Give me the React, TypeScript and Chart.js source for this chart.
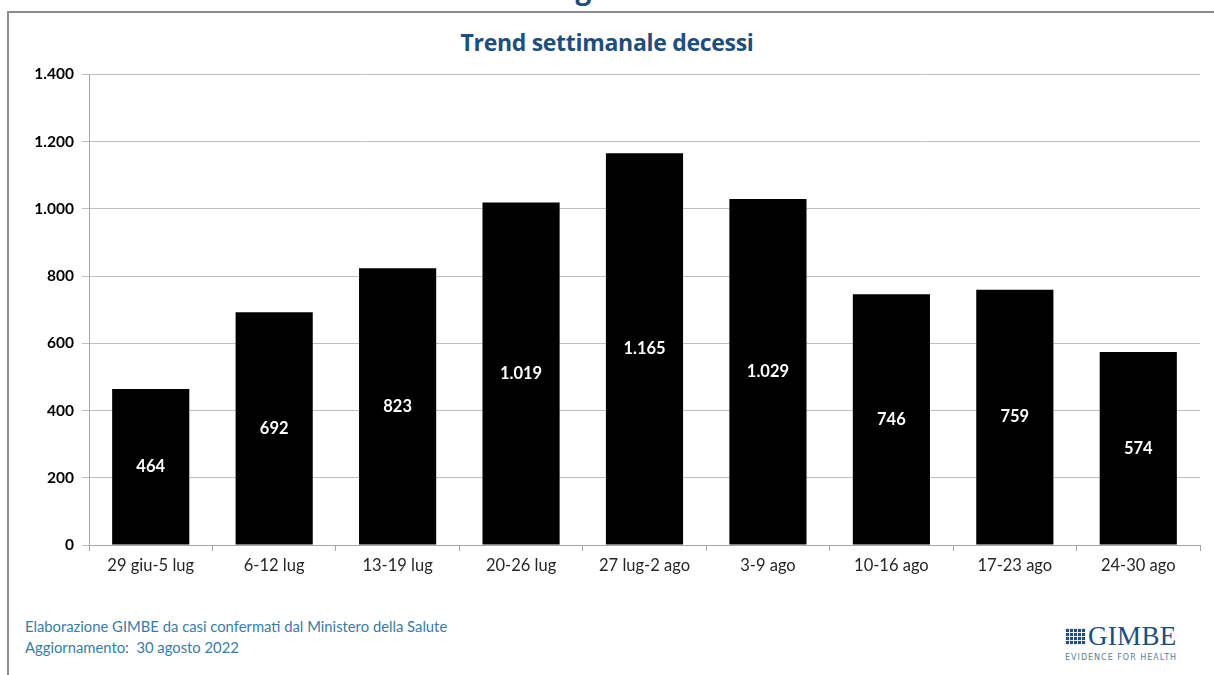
import React, { useEffect, useRef } from "react";
import { Chart, registerables } from "chart.js";

Chart.register(...registerables);

const categories = [
  "29 giu-5 lug",
  "6-12 lug",
  "13-19 lug",
  "20-26 lug",
  "27 lug-2 ago",
  "3-9 ago",
  "10-16 ago",
  "17-23 ago",
  "24-30 ago",
];
const deaths = [464, 692, 823, 1019, 1165, 1029, 746, 759, 574];
const yMax = 1400;
const yStep = 200;

const FONT = "Lato, 'Noto Sans', sans-serif";

function fmt(v: number): string {
  const s = Math.round(v).toString();
  return s.replace(/\B(?=(\d{3})+(?!\d))/g, ".");
}

const barLabels = {
  id: "barLabels",
  afterDatasetsDraw(chart: any) {
    const ctx = chart.ctx;
    const meta = chart.getDatasetMeta(0);
    ctx.save();
    ctx.fillStyle = "#ffffff";
    ctx.font = `bold 16.5px ${FONT}`;
    ctx.textAlign = "center";
    ctx.textBaseline = "middle";
    meta.data.forEach((bar: any, i: number) => {
      const v = chart.data.datasets[0].data[i];
      const mid = (bar.y + bar.base) / 2;
      ctx.fillText(fmt(v), bar.x, mid);
    });
    ctx.restore();
  },
};

export default function App() {
  const ref = useRef<HTMLCanvasElement>(null);
  useEffect(() => {
    if (!ref.current) return;
    const chart = new Chart(ref.current, {
      type: "bar",
      data: {
        labels: categories,
        datasets: [
          {
            data: deaths,
            backgroundColor: "#000000",
            borderWidth: 0,
            barPercentage: 0.625,
            categoryPercentage: 1,
          },
        ],
      },
      options: {
        animation: false,
        responsive: false,
        maintainAspectRatio: false,
        layout: { padding: { top: 11, right: 10, left: 0, bottom: 0 } },
        plugins: {
          legend: { display: false },
          tooltip: { enabled: false },
          title: { display: false },
        },
        scales: {
          x: {
            grid: {
              offset: true,
              drawOnChartArea: false,
              drawTicks: true,
              tickLength: 6,
              color: "#a6a6a6",
            },
            border: { color: "#a6a6a6", width: 1 },
            ticks: {
              color: "#262626",
              font: { family: FONT, size: 16.5 },
              padding: 5,
              maxRotation: 0,
              autoSkip: false,
            },
            afterFit(scale: any) {
              scale.height = 45;
            },
          },
          y: {
            min: 0,
            max: yMax,
            ticks: {
              stepSize: yStep,
              color: "#000000",
              font: { family: FONT, size: 15.5, weight: "bold" },
              padding: 8,
              callback: (v: any) => fmt(Number(v)),
            },
            grid: {
              color: "#bfbfbf",
              drawTicks: true,
              tickLength: 7,
            },
            border: { color: "#a6a6a6", width: 1 },
            afterFit(scale: any) {
              scale.width = 69;
            },
          },
        },
      },
      plugins: [barLabels],
    });
    return () => chart.destroy();
  }, []);

  return (
    <div
      style={{
        position: "fixed",
        left: 0,
        top: 0,
        width: 1214,
        height: 675,
        background: "#ffffff",
        overflow: "hidden",
        fontFamily: FONT,
      }}
    >
      <div
        style={{
          position: "absolute",
          left: 0,
          width: 1214,
          top: -31,
          textAlign: "center",
          color: "#1f4e79",
          fontWeight: "bold",
          fontSize: 28,
          fontFamily: "'Open Sans', sans-serif",
        }}
      >
        Figura 4
      </div>
      <div
        style={{
          position: "absolute",
          left: 7,
          top: 11,
          width: 1205,
          height: 680,
          borderTop: "2px solid #8c8c8c",
          borderLeft: "2px solid #8c8c8c",
          borderRight: "1px solid #eeeeee",
          background: "#ffffff",
        }}
      />
      <div
        style={{
          position: "absolute",
          left: 0,
          width: 1214,
          top: 26,
          textAlign: "center",
          color: "#1f4e79",
          fontWeight: "bold",
          fontSize: 23,
          fontFamily: "'Open Sans', sans-serif",
          letterSpacing: -0.3,
        }}
      >
        Trend settimanale decessi
      </div>
      <canvas
        ref={ref}
        width={1190}
        height={533}
        style={{ position: "absolute", left: 20, top: 57, width: 1190, height: 533 }}
      />
      <div
        style={{
          position: "absolute",
          left: 25,
          top: 616,
          color: "#3a7ca5",
          fontSize: 14.8,
          lineHeight: "21px",
        }}
      >
        <div>Elaborazione GIMBE da casi confermati dal Ministero della Salute</div>
        <div>Aggiornamento:&nbsp; 30 agosto 2022</div>
      </div>
      <div style={{ position: "absolute", left: 1065, top: 624 }}>
        <div style={{ display: "flex", alignItems: "center", height: 24 }}>
          <div
            style={{
              width: 21,
              height: 17,
              marginRight: 2,
              backgroundImage:
                "repeating-linear-gradient(90deg, rgba(255,255,255,0.9) 0 1px, transparent 1px 4px), repeating-linear-gradient(0deg, rgba(255,255,255,0.9) 0 1px, transparent 1px 4px)",
              backgroundColor: "#1f4e79",
            }}
          />
          <div
            style={{
              fontFamily: "'Liberation Serif', serif",
              color: "#1f4e79",
              fontSize: 27,
              lineHeight: "24px",
              letterSpacing: 0.3,
            }}
          >
            GIMBE
          </div>
        </div>
        <div
          style={{
            color: "#5a7fa0",
            fontSize: 8,
            letterSpacing: 1.0,
            marginTop: 5,
            fontFamily: "'DejaVu Sans', sans-serif",
          }}
        >
          EVIDENCE FOR HEALTH
        </div>
      </div>
    </div>
  );
}
